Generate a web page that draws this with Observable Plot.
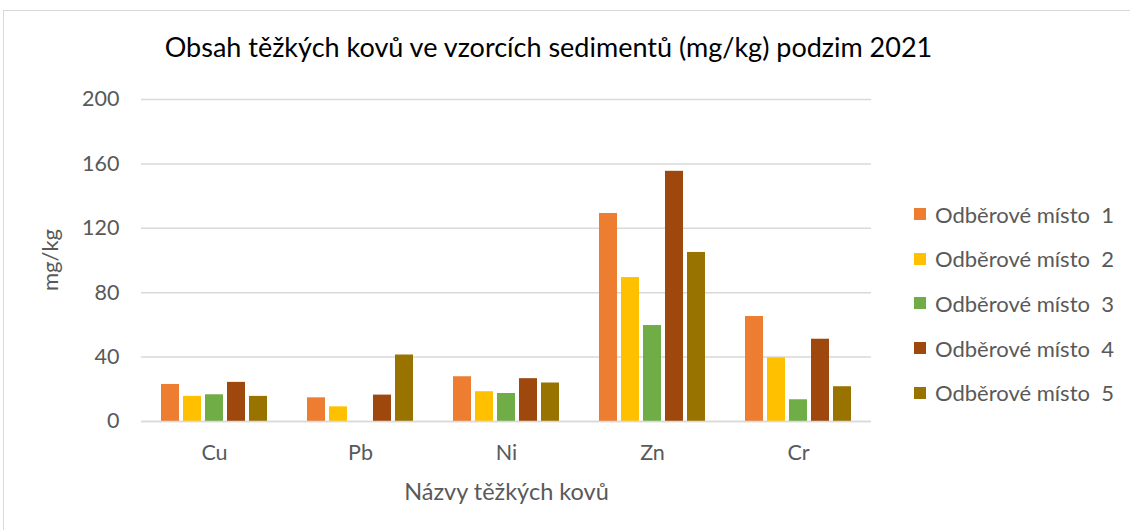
<!DOCTYPE html>
<html>
<head>
<meta charset="utf-8">
<script src="https://cdn.jsdelivr.net/npm/d3@7"></script>
<script src="https://cdn.jsdelivr.net/npm/@observablehq/plot@0.6"></script>
<style>
  html, body { margin: 0; padding: 0; background: #fff; }
  #wrap { position: relative; width: 1130px; height: 530px; overflow: hidden; font-family: Lato, "Open Sans", sans-serif; }
  #frame { position: absolute; left: 3px; top: 10px; width: 1140px; height: 530px; border: 1.5px solid #d9d9d9; box-sizing: border-box; }
  #chart { position: absolute; left: 0; top: 0; }
  #title { position: absolute; left: 0; width: 1097px; top: 30px; text-align: center; font-size: 27px; color: #000; white-space: nowrap; }
  #ylabel { position: absolute; left: 49px; top: 260px; transform: translate(-50%, -50%) rotate(-90deg); font-size: 22px; color: #595959; white-space: nowrap; }
  #xlabel { position: absolute; left: 0; width: 1013px; top: 477px; text-align: center; font-size: 23.5px; color: #595959; white-space: nowrap; }
  #legend { position: absolute; left: 914px; top: 192px; }
  .item { display: flex; align-items: center; height: 44.6px; font-size: 22px; color: #595959; white-space: pre; }
  .sw { width: 12px; height: 12px; margin-right: 9px; }
</style>
</head>
<body>
<div id="wrap">
  <div id="frame"></div>
  <div id="chart"></div>
  <div id="title">Obsah těžkých kovů ve vzorcích sedimentů (mg/kg) podzim 2021</div>
  <div id="ylabel">mg/kg</div>
  <div id="xlabel">Názvy těžkých kovů</div>
  <div id="legend"></div>
</div>
<script>
const metals = ["Cu", "Pb", "Ni", "Zn", "Cr"];
const sites = ["Odběrové místo  1", "Odběrové místo  2", "Odběrové místo  3", "Odběrové místo  4", "Odběrové místo  5"];
const site1 = [23.0, 14.7, 27.8, 129.2, 65.2];
const site2 = [15.6, 9.1, 18.5, 89.4, 39.5];
const site3 = [16.6, 0, 17.4, 59.6, 13.5];
const site4 = [24.3, 16.4, 26.6, 155.4, 51.1];
const site5 = [15.6, 41.3, 23.9, 105.0, 21.6];
const colors = ["#ED7D31", "#FFC000", "#70AD47", "#9E480E", "#997300"];
const yTicks = [0, 40, 80, 120, 160, 200];

const seriesValues = [site1, site2, site3, site4, site5];
const data = [];
metals.forEach((m, i) => {
  sites.forEach((s, j) => {
    data.push({metal: m, site: s, value: seriesValues[j][i]});
  });
});

const chart = Plot.plot({
  width: 1130,
  height: 530,
  marginLeft: 139,
  marginRight: 258,
  marginTop: 99,
  marginBottom: 109,
  style: {fontFamily: "Lato, 'Open Sans', sans-serif", fontSize: "21.5px", color: "#595959", background: "transparent"},
  fx: {domain: metals, padding: 0, label: null},
  x: {domain: sites, paddingInner: 0.2, paddingOuter: 0.86, axis: null},
  y: {domain: [0, 200], ticks: yTicks},
  color: {domain: sites, range: colors},
  marks: [
    Plot.gridY(yTicks, {stroke: "#d9d9d9", strokeOpacity: 1, strokeWidth: 1.5}),
    Plot.barY(data, {fx: "metal", x: "site", y: "value", fill: "site"}),
    Plot.ruleY([0], {stroke: "#d9d9d9", strokeWidth: 1.5}),
    Plot.axisY(yTicks, {tickSize: 0, tickPadding: 22, label: null, fill: "#595959"}),
    Plot.axisFx({anchor: "bottom", tickSize: 0, tickPadding: 23, label: null, fill: "#595959"})
  ]
});
document.getElementById("chart").appendChild(chart);

const legend = document.getElementById("legend");
sites.forEach((s, j) => {
  const item = document.createElement("div");
  item.className = "item";
  const sw = document.createElement("div");
  sw.className = "sw";
  sw.style.background = colors[j];
  const t = document.createElement("span");
  t.textContent = s;
  item.appendChild(sw);
  item.appendChild(t);
  legend.appendChild(item);
});
</script>
</body>
</html>
